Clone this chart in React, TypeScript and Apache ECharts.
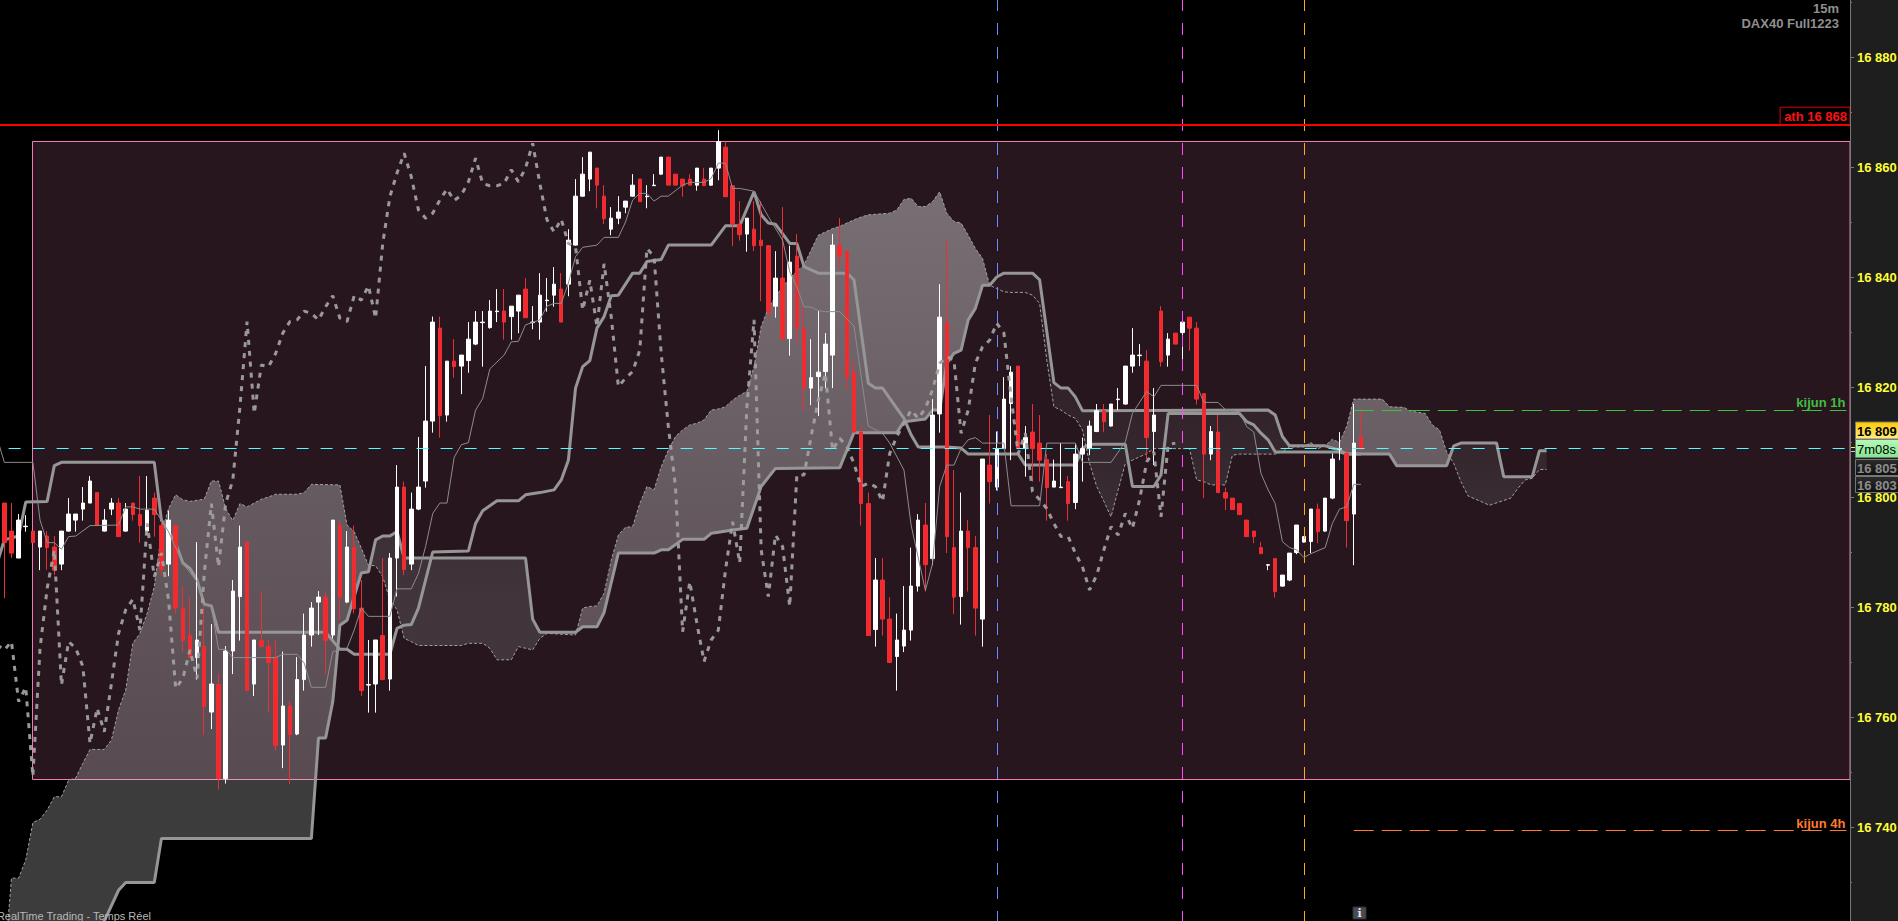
import React, { useEffect, useRef } from "react";
import * as echarts from "echarts";

// [open, close, low, high] for each 15m candle, oldest first
const ohlc = [
[16798.9,16791.7,16781.6,16798.9],[16793.8,16789.8,16788.9,16798.9],[16788.9,16795.8,16788.9,16796.9],[16794.6,16794.7,16793.7,16796.7],[16793.8,16791.7,16791.7,16793.8],
[16790.9,16793.8,16786.7,16793.8],[16792.9,16790.8,16786.8,16793.8],[16790.9,16786.7,16785.8,16792.9],[16787.8,16793.8,16786.7,16793.8],[16793.8,16796.9,16793.7,16799.8],
[16795.8,16796.9,16793.7,16796.9],[16797.8,16798.9,16795.7,16801.8],[16798.9,16802.9,16798.9,16803.8],[16800.8,16794.8,16794.8,16800.8],[16793.8,16795.8,16793.7,16797.8],
[16797.8,16798.9,16796.7,16799.8],[16798.9,16792.8,16792.8,16799.8],[16793.8,16797.8,16793.7,16798.9],[16798.9,16796.8,16795.7,16798.9],[16796.8,16794.8,16791.7,16803.8],
[16793.8,16797.6,16793.1,16803.8],[16799.8,16796.8,16792.8,16800.8],[16794.8,16786.8,16785.8,16795.8],[16787.8,16795.8,16785.6,16797.5],[16794.8,16779.8,16778.8,16794.8],
[16779.8,16773.9,16771.9,16783.8],[16774.8,16770.8,16770.8,16781.8],[16770.8,16774,16766.8,16791.8],[16772.8,16761.9,16756.7,16780],[16760.9,16766,16757.8,16776.9],
[16765.9,16748.8,16746.8,16767.9],[16748.8,16772,16747.9,16772.9],[16772,16782.9,16767.8,16784.9],[16781.9,16790.9,16773.9,16794.8],[16791.8,16764.8,16764.8,16791.8],
[16766,16774,16763.8,16774],[16773.9,16772.8,16772.8,16782.9],[16772.8,16769.9,16760.8,16774],[16770.8,16754.8,16753.9,16774],[16754.9,16762,16750.7,16771.9],
[16762,16756.8,16747.8,16762.9],[16756.9,16766.8,16756.7,16770.9],[16766.8,16774.9,16764.8,16778.8],[16774.9,16779.8,16772.8,16780.9],[16780.9,16781.8,16774.9,16782.9],
[16781.8,16773.9,16767.8,16782.9],[16774.9,16795.8,16774.3,16795.8],[16794.8,16781.8,16777.6,16795.8],[16780.9,16790.9,16780.7,16793.8],[16790.9,16779.7,16778.8,16794.8],
[16779.8,16764.8,16763.8,16784.9],[16765.8,16765.9,16760.8,16774],[16766,16774,16760.8,16774],[16774.8,16766.8,16766.8,16788.9],[16766.9,16788.9,16764.8,16789.8],
[16788.9,16801.8,16781.9,16805.8],[16801.8,16786.8,16785.8,16802.8],[16787.8,16797.8,16786.7,16800.8],[16797.8,16801.8,16797.6,16810.9],[16802.9,16813.8,16801.7,16823.8],
[16813.8,16831.8,16811.7,16832.8],[16830.7,16814.8,16810.8,16832.8],[16814.9,16824.7,16813.7,16824.7],[16824.7,16823.7,16821.7,16828.7],[16823.8,16825.8,16818.7,16825.8],
[16824.8,16828.7,16822.6,16831.8],[16827.8,16831.8,16827.6,16833.8],[16831.7,16831.8,16823.7,16833.8],[16830.8,16833.8,16830.6,16835.8],[16833.7,16833.8,16831.8,16837.8],
[16833.8,16831.8,16828.6,16837.8],[16832.8,16834.7,16828.6,16834.7],[16833.8,16836.7,16829.8,16836.7],[16837.8,16832.6,16832.6,16839.8],[16831.7,16831.8,16830.5,16834.7],
[16831.8,16836.7,16828.6,16840.7],[16835.7,16835.8,16833.7,16839.8],[16836.7,16838.7,16834.6,16841.8],[16837.8,16831.8,16831.8,16840.7],[16838.7,16846.7,16836.5,16848.7],
[16845.8,16854.7,16845.7,16857.8],[16854.7,16858.7,16854.6,16861.8],[16857.8,16862.7,16855.6,16862.7],[16859.8,16856.7,16852.5,16859.8],[16854.7,16850.6,16849.6,16856.7],
[16848.7,16850.7,16847.6,16852.7],[16850.7,16851.8,16849.6,16854.7],[16852.7,16853.8,16851.6,16853.8],[16854.7,16856.7,16854.6,16858.7],[16857.8,16853.7,16853.7,16857.8],
[16854.6,16854.7,16852.5,16856.7],[16856.6,16856.7,16856.6,16858.7],[16858.7,16861.8,16858.6,16861.8],[16861.8,16856.7,16856.7,16861.8],[16858.7,16856.7,16856.7,16858.7],
[16857.8,16856.6,16854.6,16857.8],[16857.8,16856.7,16856.7,16858.7],[16856.7,16859.8,16855.7,16859.8],[16857.8,16856.6,16856.6,16859.8],[16856.7,16859.8,16856.6,16859.8],
[16859.8,16864.6,16857.6,16866.7],[16863.6,16854.6,16854.6,16864.6],[16856.6,16849.7,16845.6,16856.6],[16849.6,16847.7,16846.6,16853.8],[16847.8,16850.7,16844.6,16850.7],
[16848.7,16845.7,16844.7,16853.8],[16846.7,16845.7,16835.6,16853.8],[16845.7,16833.7,16832.6,16845.7],[16834.7,16839.8,16832.6,16844.7],[16839.8,16828.7,16828.7,16852.7],
[16828.8,16842.7,16825.7,16845.7],[16843.8,16830.7,16827.8,16847.8],[16830.7,16819.8,16815.6,16834.6],[16819.8,16821.7,16816.7,16828.7],[16821.9,16822.7,16814.7,16833.8],
[16822.8,16827.8,16819.8,16829.8],[16825.8,16845.8,16819.8,16847.8],[16845.8,16843.7,16841.8,16850.7],[16844.7,16821.7,16819.6,16844.7],[16822.7,16811.8,16811.8,16824.7],
[16811.8,16798.8,16794.8,16812.9],[16798.8,16774.8,16774.8,16800.8],[16775.9,16784.9,16772.8,16788.9],[16784.9,16777.8,16774.8,16788.9],[16777.8,16769.9,16769.9,16781.8],
[16771,16774,16764.8,16778.8],[16772.9,16775.8,16771.8,16783.8],[16775.8,16783.8,16773.9,16790.8],[16783.8,16795.8,16782.8,16796.9],[16794.9,16787.7,16782.8,16798.9],
[16788.8,16814.9,16787.6,16817.8],[16815.1,16832.7,16811.7,16838.7],[16831.8,16792.8,16789.8,16846.7],[16790.8,16781.8,16778.7,16804.9],[16781.9,16793.8,16776.8,16800.8],
[16793.8,16790.8,16782.8,16795.8],[16790.8,16779.8,16774.8,16792.9],[16777.8,16806.9,16772.8,16806.9],[16805.8,16802.8,16798.8,16814.9],[16801.8,16808.8,16801.2,16811.9],
[16808.8,16817.8,16808.8,16821.8],[16817,16822.7,16806.7,16823.8],[16823.8,16808.8,16808.8,16823.8],[16808.8,16810.8,16803.7,16812.9],[16811.8,16808.8,16802.8,16816.9],
[16809.8,16806.7,16802.8,16814.9],[16806.8,16801.7,16795.7,16807.8],[16801.8,16802.9,16801.8,16806.8],[16801.7,16801.8,16801.7,16809.8],[16802.8,16798.8,16795.7,16803.8],
[16799,16807.8,16797.8,16809.8],[16807.8,16808.8,16802.8,16810.8],[16808.8,16812.9,16807.6,16813.9],[16811.9,16815.7,16811.8,16816.9],[16815.7,16813.7,16811.8,16816.9],
[16812.9,16816.9,16812.8,16816.9],[16817.7,16817.8,16815.8,16819.8],[16816.9,16823.8,16816.8,16823.8],[16823.8,16825.8,16822.6,16830.7],[16825.7,16825.8,16823.8,16827.8],
[16824.7,16810.8,16806.8,16826.7],[16811.9,16814.9,16805.8,16819.8],[16833.8,16824.6,16823.7,16834.7],[16825.8,16828.7,16823.7,16829.8],[16829.8,16827.8,16827.8,16829.8],
[16829.9,16831.8,16824.6,16833.8],[16832.7,16830.7,16826.6,16832.7],[16830.7,16817.8,16816.8,16831.8],[16818.8,16807.8,16799.8,16818.8],[16807.8,16811.9,16806.7,16812.9],
[16811.8,16800.8,16800.8,16814.9],[16800.8,16799.8,16797.6,16801.7],[16799.8,16797.7,16797.7,16799.8],[16798.8,16796.8,16796.8,16798.8],[16795.8,16792.8,16792.8,16795.8],
[16793.8,16792.8,16791.6,16793.8],[16790.8,16789.7,16789.7,16791.8],[16787.6,16787.7,16786.7,16787.7],[16788.8,16782.8,16781.7,16788.8],[16783.8,16785.8,16783.7,16785.8],
[16784.9,16789.8,16784.7,16789.8],[16789.9,16794.9,16789.6,16794.9],[16791.8,16792.8,16791.7,16792.8],[16791.9,16797.8,16789.8,16797.8],[16797.8,16793.7,16791.6,16798.8],
[16793.8,16799.8,16793.7,16799.8],[16799.8,16806.9,16799.6,16807.9],[16808.7,16808.8,16806.7,16811.8],[16807.9,16795.7,16790.8,16808.8],[16796.9,16809.8,16787.6,16816.9],
[16810.9,16808.5,16808.5,16815.6],
];

// Slow thick line: [candle slot, price]
const kijun = [[0,16788],[1,16792.2],[3,16792.9],[4,16799.1],[7,16799.2],[8,16805.7],[9,16806.3],[22,16806.3],[23,16795.8],[24,16793.7],[25,16791.6],[26,16788],[27,16787],[28,16784.9],[29,16780.5],[30,16780.2],[31,16775.4],[46,16775.4],[48,16772.3],[49,16772.3],[50,16771.4],[55,16771.4],[56,16776.1],[57,16776.7],[58,16776.8],[59,16779.8],[61,16790],[66,16790.2],[67,16795.2],[68,16797.5],[70,16799.3],[73,16799.3],[74,16800.4],[76,16800.8],[78,16801.3],[79,16803.1],[80,16806.7],[81,16819.8],[82,16823.7],[83,16824.8],[84,16830.7],[85,16832.8],[86,16836.6],[87,16836.7],[89,16840.7],[90,16840.7],[91,16842.8],[93,16843.2],[94,16845.8],[100,16845.8],[102,16849.3],[104,16849.3],[106,16855.5],[107,16851.3],[108,16849.8],[109,16849.6],[111,16846.1],[112,16846.1],[113,16841.9],[114,16841.3],[115,16840.7],[119,16840.7],[120,16839.5],[122,16820.7],[123,16819.8],[124,16819.8],[126,16816.1],[127,16814.3],[128,16811.3],[129,16809.1],[133,16809.1],[135,16808.9],[136,16807.8],[143,16807.8],[144,16805.8],[151,16805.8],[152,16808.9],[153,16809.6],[158,16809.6],[159,16801.9],[162,16801.9],[163,16804],[164,16815.2],[174,16815.2],[175,16813.7],[176,16813.1],[177,16811.6],[178,16810.4],[179,16808.2],[188,16808.2],[189,16807.8],[191,16807.8]];

// Fast thin line
const tenkan = [[0,16810.7],[1,16806.3],[5,16806.3],[6,16795.8],[7,16791.7],[8,16791.7],[9,16790.5],[10,16792.8],[11,16792.9],[13,16794.8],[17,16794.9],[18,16798.2],[19,16798.2],[20,16797.8],[22,16797.8],[23,16795.8],[24,16793.7],[26,16787.9],[28,16784.6],[29,16780.5],[30,16780],[31,16772.3],[32,16772.3],[33,16770.8],[39,16770.8],[40,16771.4],[42,16771.4],[43,16769.8],[44,16765.4],[46,16765.4],[47,16771.9],[49,16772.5],[50,16775.8],[51,16779.8],[52,16778.3],[55,16778.3],[56,16783.3],[58,16783.3],[59,16786.1],[60,16791],[61,16797],[62,16798.9],[63,16798.9],[64,16807.2],[65,16809.5],[66,16809.9],[67,16815.8],[68,16817.9],[69,16823.3],[71,16825.8],[72,16828.2],[73,16828.3],[74,16831.3],[76,16832.2],[77,16834.7],[78,16835.2],[79,16835.2],[80,16838.9],[81,16843.7],[82,16845.4],[84,16845.8],[85,16847.2],[87,16847.2],[88,16850],[89,16854],[90,16855.2],[91,16855.2],[92,16853.8],[93,16854.7],[94,16854.7],[96,16856.7],[97,16857.2],[99,16857.2],[100,16857.9],[101,16860.7],[102,16860.7],[103,16856.1],[104,16856.1],[106,16855.6],[108,16851],[110,16846.7],[111,16841],[112,16838.2],[113,16834.6],[114,16834.5],[115,16833.9],[116,16833.7],[118,16833.7],[120,16831.1],[122,16812.9],[124,16811.6],[125,16809.8],[127,16804.9],[128,16794.9],[130,16783],[131,16787.9],[132,16801.9],[133,16805.8],[134,16805.8],[135,16808.8],[136,16810.4],[137,16810.8],[138,16809.8],[141,16809.8],[142,16798.4],[146,16798.4],[147,16809.8],[151,16809.8],[152,16806.3],[156,16806.3],[158,16810],[159,16815.2],[161,16819.2],[162,16818.2],[163,16820.3],[168,16820.3],[169,16817.2],[171,16817.2],[172,16815.9],[174,16815.5],[175,16812.8],[176,16811.8],[177,16804.3],[178,16801.3],[179,16798.8],[180,16791.9],[181,16790.8],[182,16790.4],[183,16789],[184,16789.7],[186,16790.8],[187,16795.2],[188,16797.8],[189,16798.2],[190,16802.3],[191,16802.3]];

// Lagging dashed line, one value per slot from slot 0
const chikou = [16773.1,16772.2,16773.7,16762.8,16765.4,16749.2,16772.5,16783.4,16790.4,16765.8,16773.7,16772.5,16769.2,16755.2,16761.6,16757.3,16766.1,16775.2,16779.5,16781.4,16775.8,16795.2,16785.5,16789.8,16781.3,16765.2,16767,16772.2,16767,16786.1,16798.8,16787.3,16798.8,16803.1,16816.4,16831.9,16815.2,16824,16823.7,16826.1,16829.8,16831.9,16832.2,16833.8,16833.4,16832.2,16834.6,16836.6,16832.5,16831.9,16836.6,16835.8,16838.4,16832.5,16846.1,16854.6,16858.9,16862.5,16858.2,16852.2,16850.7,16851.6,16854,16856,16853.9,16854.9,16857.3,16861.6,16857,16856.6,16856.6,16857,16859.5,16857.3,16859.8,16864.3,16857,16850.4,16848.2,16850.5,16846.1,16845.5,16834,16839.4,16831,16842.4,16832.8,16820.1,16821.6,16822.8,16826.7,16845.2,16843.7,16826.1,16812.8,16801.9,16775.5,16784.6,16777,16770.1,16774,16775.8,16786.7,16795.5,16788,16816.4,16832.2,16790.4,16781.9,16793.1,16791,16780.1,16804,16804,16811,16817.6,16822.5,16808.5,16810.7,16809.2,16806.1,16801.9,16802.5,16801.9,16799.2,16807.9,16811,16813.4,16815.8,16814.3,16816.1,16819.5,16824.3,16825.5,16824.9,16811.6,16815.8,16824.3,16827.3,16828.5,16831.6,16829.8,16818.2,16807.9,16811.6,16801,16799.5,16797.9,16795.2,16792.8,16792.8,16789.8,16787.3,16783.1,16785.8,16790.4,16794.6,16793.1,16797,16794.3,16799.5,16806.4,16808.2,16796.4,16809.5,16809.8];

// Cloud edges
const senkouA = [[1,16714.6],[2,16730.7],[3,16730.7],[4,16734],[5,16740.8],[6,16741.4],[7,16743.1],[8,16745.5],[9,16745.5],[10,16748.5],[11,16748.9],[12,16751.6],[13,16754.1],[15,16754.1],[16,16755.8],[17,16761.3],[18,16764.9],[19,16773.4],[20,16775.2],[21,16778.8],[22,16783.7],[23,16793.4],[24,16797.9],[25,16800.4],[26,16799.5],[27,16799.2],[29,16799.6],[30,16802.9],[31,16802.9],[32,16797.9],[33,16795.7],[34,16798.8],[35,16798.2],[37,16799.6],[38,16800],[39,16800.5],[42,16800.5],[43,16800.8],[44,16802.3],[48,16802.2],[49,16794.9],[50,16793.7],[51,16790.7],[52,16787.6],[53,16787.5],[54,16785.5],[55,16781.3],[56,16779.5],[57,16774.3],[58,16773.7],[59,16773],[65,16773],[66,16773.4],[68,16773.4],[69,16772.5],[70,16770.4],[72,16770.4],[73,16772.8],[75,16772.2],[76,16774.3],[77,16775.2],[81,16774.9],[82,16779.8],[83,16780.1],[84,16780.2],[85,16782.5],[86,16788.5],[87,16793.1],[88,16794.5],[89,16794.6],[90,16798.8],[91,16801.9],[92,16801.3],[93,16805.5],[94,16808.5],[95,16811],[96,16812.2],[97,16813.1],[98,16813.4],[99,16814],[100,16815.8],[101,16816],[102,16816.4],[103,16817.6],[104,16818.5],[105,16819.2],[106,16823.7],[107,16831],[108,16834.3],[109,16836.4],[110,16838.2],[111,16839.8],[112,16841],[113,16842.2],[114,16844.9],[115,16847.6],[116,16848.2],[117,16848.8],[118,16849.2],[119,16849.8],[120,16850.4],[121,16850.9],[122,16851.3],[124,16851.5],[125,16851.6],[126,16852.2],[127,16854.1],[128,16854.3],[129,16852.8],[130,16852.8],[131,16853.7],[132,16855.5],[133,16851.6],[134,16850.1],[135,16849.8],[136,16847.6],[137,16845.2],[138,16843.4],[139,16838.5],[140,16837.9],[141,16837.3],[142,16837.2],[144,16837.2],[145,16836.7],[146,16835.2],[147,16824.9],[148,16816.4],[149,16815.8],[150,16814.9],[151,16814.3],[152,16812.2],[153,16806.1],[154,16801.9],[155,16799.2],[156,16796.4],[157,16801.3],[158,16806.1],[159,16806.7],[160,16807.3],[161,16807.9],[162,16808.8],[166,16808.8],[167,16808.8],[168,16803.1],[169,16802.8],[170,16802.2],[172,16802.2],[173,16807.6],[174,16807.8],[179,16807.8],[180,16808.2],[181,16809.1],[183,16809.1],[184,16809.9],[185,16808.8],[186,16809.3],[187,16810.5],[188,16809.9],[189,16812.8],[190,16817.8],[194,16817.8],[195,16816.4],[197,16816.3],[198,16815.6],[200,16815.2],[201,16813.1],[202,16812.2],[203,16808.2],[204,16806.1],[205,16802.8],[206,16800.2],[209,16798.5],[212,16799.8],[213,16801.6],[214,16803.1],[215,16803.4],[216,16805],[217,16805]];

const senkouB = [[1,16700],[15,16722.9],[17,16728.5],[18,16729.9],[22,16729.9],[23,16737.9],[44,16737.9],[45,16756.2],[46,16756.2],[47,16762.8],[48,16776.7],[49,16777.6],[50,16781.9],[51,16786.2],[52,16786.4],[53,16792.2],[54,16792.9],[55,16792.9],[56,16793.7],[57,16788.9],[74,16788.9],[75,16777.8],[76,16775.4],[81,16775.4],[82,16776.4],[84,16776.4],[85,16779],[87,16789.8],[92,16789.8],[93,16790.4],[94,16790.4],[96,16792.3],[99,16792.3],[100,16793.4],[101,16793.6],[103,16794],[105,16794.3],[107,16801.9],[109,16805.2],[118,16805.3],[120,16811.7],[126,16811.7],[127,16813.7],[130,16814.2],[131,16815.8],[132,16815.8],[133,16824.3],[134,16826.1],[135,16826.7],[136,16832.2],[137,16834.3],[138,16838.5],[139,16838.5],[140,16840],[141,16840.7],[145,16840.7],[146,16839.5],[148,16820.8],[149,16819.8],[150,16819.8],[151,16818.2],[152,16815.7],[178,16815.8],[179,16814.9],[180,16811],[181,16809.3],[186,16809.3],[188,16808.5],[189,16807.8],[195,16807.8],[196,16805.7],[203,16805.7],[204,16809.3],[205,16809.8],[210,16809.8],[211,16803.7],[215,16803.7],[216,16808.4],[217,16808.4]];

const yTicks = { min: 16720, max: 16900, step: 20 };
const rangeBox = { slot: 5, top: 16864.8, bottom: 16748.8 };
const athLevel = 16867.6;
const lastLevel = 16808.82;
const kijun1h = 16815.73;
const kijun4h = 16739.36;
const sessionSlots = [
  { slot: 140, color: "#6a8cff" },
  { slot: 166, color: "#ff4cff" },
  { slot: 183, color: "#ffaa1a" },
];

const SLOTS = 260;
const FONT = '"Liberation Sans", Arial, sans-serif';
const categories = Array.from({ length: SLOTS }, (_, i) => "s" + i);

function valueAt(line: number[][], slot: number) {
  for (let i = 0; i < line.length - 1; i++) {
    const [x0, y0] = line[i];
    const [x1, y1] = line[i + 1];
    if (slot >= x0 && slot <= x1) return y0 + ((y1 - y0) * (slot - x0)) / (x1 - x0);
  }
  return line[line.length - 1][1];
}

const lightCloud = {
  type: "linear", x: 0, y: 190, x2: 0, y2: 921, global: true,
  colorStops: [
    { offset: 0, color: "rgba(200,200,200,0.5)" },
    { offset: 0.424, color: "rgba(200,200,200,0.38)" },
    { offset: 0.793, color: "rgba(200,200,200,0.3)" },
    { offset: 1, color: "rgba(200,200,200,0.3)" },
  ],
};
const darkCloud = {
  type: "linear", x: 0, y: 250, x2: 0, y2: 600, global: true,
  colorStops: [
    { offset: 0, color: "rgba(90,85,88,0.05)" },
    { offset: 0.57, color: "rgba(90,85,88,0.26)" },
    { offset: 1, color: "rgba(90,85,88,0.5)" },
  ],
};

function renderCloud(_: any, api: any) {
  const knots = Array.from(new Set([...senkouA, ...senkouB].map((p) => p[0]))).sort((a, b) => a - b);
  const pts = knots.map((k) => ({
    x: api.coord([k, 16800])[0],
    a: api.coord([k, valueAt(senkouA, k)])[1],
    b: api.coord([k, valueAt(senkouB, k)])[1],
  }));
  const children: any[] = [];
  let top: number[][] = [];
  let bot: number[][] = [];
  let up = pts[0].a <= pts[0].b;
  const flush = () => {
    if (top.length > 1) {
      children.push({
        type: "polygon",
        shape: { points: [...top, ...bot.slice().reverse()] },
        style: { fill: up ? lightCloud : darkCloud },
      });
    }
  };
  pts.forEach((p, i) => {
    const nowUp = p.a <= p.b;
    if (i > 0 && nowUp !== up && p.a !== p.b) {
      const q = pts[i - 1];
      const d0 = q.a - q.b;
      const d1 = p.a - p.b;
      const t = d0 === d1 ? 0 : d0 / (d0 - d1);
      const cx = q.x + (p.x - q.x) * t;
      const cy = q.a + (p.a - q.a) * t;
      top.push([cx, cy]);
      bot.push([cx, cy]);
      flush();
      top = [[cx, cy]];
      bot = [[cx, cy]];
      up = nowUp;
    }
    top.push([p.x, p.a]);
    bot.push([p.x, p.b]);
  });
  flush();
  return { type: "group", children };
}

function renderBox(params: any, api: any) {
  const tl = api.coord([rangeBox.slot, rangeBox.top]);
  const br = api.coord([rangeBox.slot, rangeBox.bottom]);
  const right = params.coordSys.x + params.coordSys.width;
  const x = Math.round(tl[0]) - 0.5;
  return {
    type: "rect",
    shape: { x, y: Math.round(tl[1]) + 0.5, width: right - x, height: br[1] - tl[1] },
    style: { fill: "#28161f", stroke: "#f578b6", lineWidth: 1 },
  };
}

const chipText = (text: string, x: number, y: number, fill: string, font: string, align = "left") => ({
  type: "text", x, y, z: 50,
  style: { text, fill, font, textAlign: align, textVerticalAlign: "middle" },
});
const vGrad = (a: string, b: string) => ({
  type: "linear", x: 0, y: 0, x2: 0, y2: 1,
  colorStops: [{ offset: 0, color: a }, { offset: 1, color: b }],
});
const chip = (x: number, y: number, w: number, h: number, fill: any) => ({
  type: "rect", z: 50, shape: { x, y, width: w, height: h },
  style: { fill, stroke: "#777", lineWidth: 1 },
});
const tickMark = (y: number, color: string) => ({
  type: "line", z: 50, shape: { x1: 1851, y1: y, x2: 1855, y2: y },
  style: { stroke: color, lineWidth: 1 },
});
const bold13 = `bold 13px ${FONT}`;

export default function App() {
  const ref = useRef<HTMLDivElement>(null);
  useEffect(() => {
    document.body.style.margin = "0";
    document.body.style.background = "#000";
    const chart = echarts.init(ref.current!, null, { renderer: "svg" });
    chart.setOption({
      animation: false,
      backgroundColor: "#1e1e1e",
      grid: {
        show: true, backgroundColor: "#000", borderWidth: 0, outerBoundsMode: "none",
        left: -6.38, top: -53, width: 1856.38, height: 990,
      },
      xAxis: { type: "category", data: categories, show: false, boundaryGap: true },
      yAxis: {
        type: "value", position: "right", min: yTicks.min, max: yTicks.max, interval: yTicks.step, z: 10,
        splitLine: { show: false },
        axisLine: { show: true, lineStyle: { color: "#777", width: 1 } },
        axisTick: { show: true, length: 4, lineStyle: { color: "#777" } },
        minorTick: { show: true, splitNumber: 2, length: 2, lineStyle: { color: "#777" } },
        axisLabel: {
          color: "#ffff38", fontFamily: FONT, fontWeight: "bold", fontSize: 13, margin: 7,
          showMinLabel: false, showMaxLabel: false,
          formatter: (v: number) =>
            v === yTicks.min || v === yTicks.max ? "" : String(v).replace(/(\d{2})(\d{3})/, "$1 $2"),
        },
      },
      series: [
        { type: "custom", name: "box", z: 1, silent: true, renderItem: renderBox, data: [[rangeBox.slot, rangeBox.top]] },
        { type: "custom", name: "cloud", z: 2, silent: true, renderItem: renderCloud, data: [[0, 16800]] },
        {
          type: "line", name: "Senkou A", z: 3, data: senkouA, showSymbol: false, silent: true,
          lineStyle: { color: "#a0a0a0", width: 1, type: [3, 2] },
        },
        {
          type: "line", name: "Senkou B", z: 3, data: senkouB, showSymbol: false, silent: true,
          lineStyle: { color: "#969696", width: 3 },
        },
        {
          type: "line", name: "Kijun", z: 3, data: kijun, showSymbol: false, silent: true,
          lineStyle: { color: "#969696", width: 3 },
        },
        {
          type: "candlestick", name: "DAX40", z: 4, silent: true, barWidth: 4,
          data: [["-", "-", "-", "-"], ...ohlc],
          itemStyle: { color: "#ffffff", borderColor: "#ffffff", color0: "#f82828", borderColor0: "#e8303a", borderWidth: 1 },
        },
        {
          type: "line", name: "Tenkan", z: 5, data: tenkan, showSymbol: false, silent: true,
          lineStyle: { color: "#8c8c8c", width: 1 },
        },
        {
          type: "line", name: "Chikou", z: 6, data: chikou, showSymbol: false, silent: true,
          lineStyle: { color: "#a0a0a0", width: 3, type: [5, 6], opacity: 0.95 },
          markLine: {
            silent: true, symbol: "none", animation: false,
            data: [
              ...sessionSlots.map((s) => ({
                xAxis: s.slot, label: { show: false },
                lineStyle: { color: s.color, width: 1, type: [12, 12], dashOffset: 10.3 },
              })),
              {
                yAxis: lastLevel, label: { show: false },
                lineStyle: { color: "#4dffff", width: 1, type: [12, 12], dashOffset: 8.62 },
              },
              {
                yAxis: athLevel,
                lineStyle: { color: "#ff0000", width: 2, type: "solid" },
                label: {
                  show: true, position: "insideEndTop", distance: 0, formatter: "ath 16 868",
                  color: "#ff1010", fontFamily: FONT, fontWeight: "bold", fontSize: 13,
                  borderColor: "#e00000", borderWidth: 1, padding: [3, 3, 2, 4],
                },
              },
              [
                { coord: [190, kijun1h], lineStyle: { color: "#3fbf3f", width: 1, type: [20, 8] } },
                { coord: [259, kijun1h] },
              ].map((p, i) => i === 0 ? {
                ...p,
                label: {
                  show: true, position: "insideEndTop", distance: 1, formatter: "kijun 1h",
                  color: "#3fbf3f", fontFamily: FONT, fontWeight: "bold", fontSize: 13,
                },
              } : p),
              [
                { coord: [190, kijun4h], lineStyle: { color: "#ff7a30", width: 1, type: [20, 8] } },
                { coord: [259, kijun4h] },
              ].map((p, i) => i === 0 ? {
                ...p,
                label: {
                  show: true, position: "insideEndTop", distance: 1, formatter: "kijun 4h",
                  color: "#ff7a30", fontFamily: FONT, fontWeight: "bold", fontSize: 13,
                },
              } : p),
            ],
          },
        },
      ],
      graphic: [
        chipText("15m", 1839, 8, "#8f8f8f", bold13, "right"),
        chipText("DAX40 Full1223", 1839, 23, "#8f8f8f", bold13, "right"),
        chipText("ProRealTime Trading - Temps Réel", 151, 916, "#b8b8b8", `11px ${FONT}`, "right"),
        tickMark(447.5, "#ffe840"),
        tickMark(451.5, "#cccccc"),
        chip(1855.5, 422, 44, 17, vGrad("#ffc800", "#ffee80")),
        chipText("16 809", 1857, 431, "#000", bold13),
        chip(1855.5, 439.5, 44, 18, vGrad("#b8f8b8", "#80e890")),
        chipText("7m08s", 1857, 449, "#000", `13px ${FONT}`),
        chip(1855.5, 459.5, 44, 16, vGrad("#2c2c2c", "#101010")),
        chipText("16 805", 1857, 468, "#8c8c8c", bold13),
        chip(1855.5, 476.5, 44, 16, vGrad("#2c2c2c", "#101010")),
        chipText("16 803", 1857, 485, "#8c8c8c", bold13),
        { type: "rect", z: 50, shape: { x: 1353, y: 907, width: 13, height: 12 }, style: { fill: "#4a4a55", stroke: "#2e2e36" } },
        chipText("i", 1359.5, 913.5, "#e8e8e8", `bold 11px "DejaVu Serif", serif`, "center"),
      ],
    });
    return () => chart.dispose();
  }, []);
  return <div ref={ref} style={{ position: "fixed", left: 0, top: 0, width: 1898, height: 921 }} />;
}
